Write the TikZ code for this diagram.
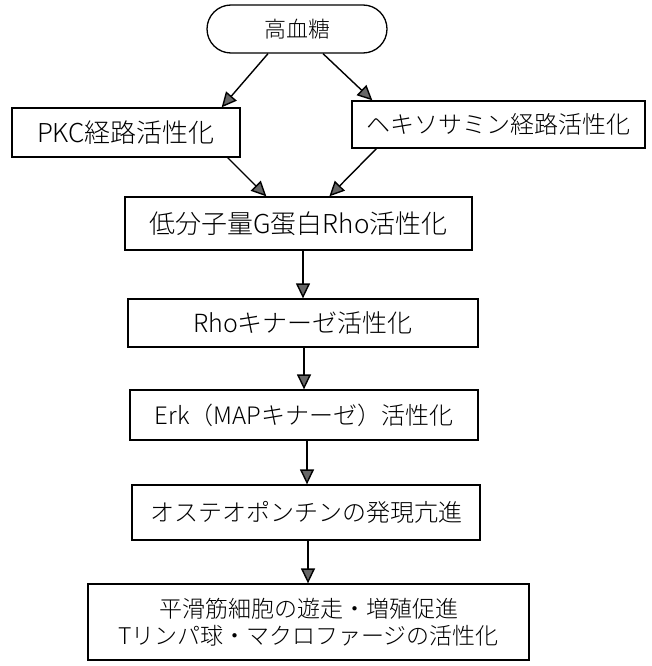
\documentclass[tikz,border=0pt]{standalone}
\usepackage{fontspec}
\setmainfont{Noto Sans CJK JP}[UprightFont={* Light}]
\usetikzlibrary{arrows.meta}
\tikzset{
  box/.style={draw=black, line width=1.3pt, rectangle, inner sep=0pt, align=center, font=\fontsize{24}{28}\selectfont},
  conn/.style={line width=1.4pt, -{Triangle[length=15pt,width=14pt,fill=black!60]}}
}
\begin{document}
\begin{tikzpicture}[x=1pt,y=-1pt]
\useasboundingbox (0,0) rectangle (652,666);
\node[box, rounded corners=24pt, minimum width=180pt, minimum height=48pt, font=\fontsize{22}{26}\selectfont] (top) at (297,29) {高血糖};
\node[box, minimum width=228pt, minimum height=49pt, font=\fontsize{26}{28}\selectfont] (pkc) at (126,132.5) {PKC経路活性化};
\node[box, minimum width=293pt, minimum height=47pt] (hex) at (498.5,124.5) {ヘキソサミン経路活性化};
\node[box, minimum width=347pt, minimum height=53pt, font=\fontsize{26}{28}\selectfont] (rho) at (298.5,223.5) {低分子量G蛋白Rho活性化};
\node[box, minimum width=350pt, minimum height=48pt, font=\fontsize{25}{28}\selectfont] (rhok) at (303,323) {Rhoキナーゼ活性化};
\node[box, minimum width=348pt, minimum height=50pt] (erk) at (304,415) {Erk（MAPキナーゼ）活性化};
\node[box, minimum width=348pt, minimum height=55pt] (ost) at (306,512.5) {オステオポンチンの発現亢進};
\node[box, minimum width=441pt, minimum height=76pt, font=\fontsize{23}{27}\selectfont] (fin) at (308.5,622) {平滑筋細胞の遊走・増殖促進\\Tリンパ球・マクロファージの活性化};
\draw[conn] ([xshift=-29pt]top.south) -- ([xshift=-19pt]pkc.north east);
\draw[conn] ([xshift=26pt]top.south) -- ([xshift=21pt]hex.north west);
\draw[conn] ([xshift=-13pt]pkc.south east) -- ([xshift=142pt]rho.north west);
\draw[conn] ([xshift=25pt]hex.south west) -- ([xshift=205pt]rho.north west);
\draw[conn] ([xshift=4.5pt]rho.south) -- ([xshift=4.5pt]rho.south |- rhok.north);
\draw[conn] ([xshift=1pt]rhok.south) -- ([xshift=1pt]rhok.south |- erk.north);
\draw[conn] ([xshift=3pt]erk.south) -- ([xshift=3pt]erk.south |- ost.north);
\draw[conn] ([xshift=2pt]ost.south) -- ([xshift=2pt]ost.south |- fin.north);
\end{tikzpicture}
\end{document}
